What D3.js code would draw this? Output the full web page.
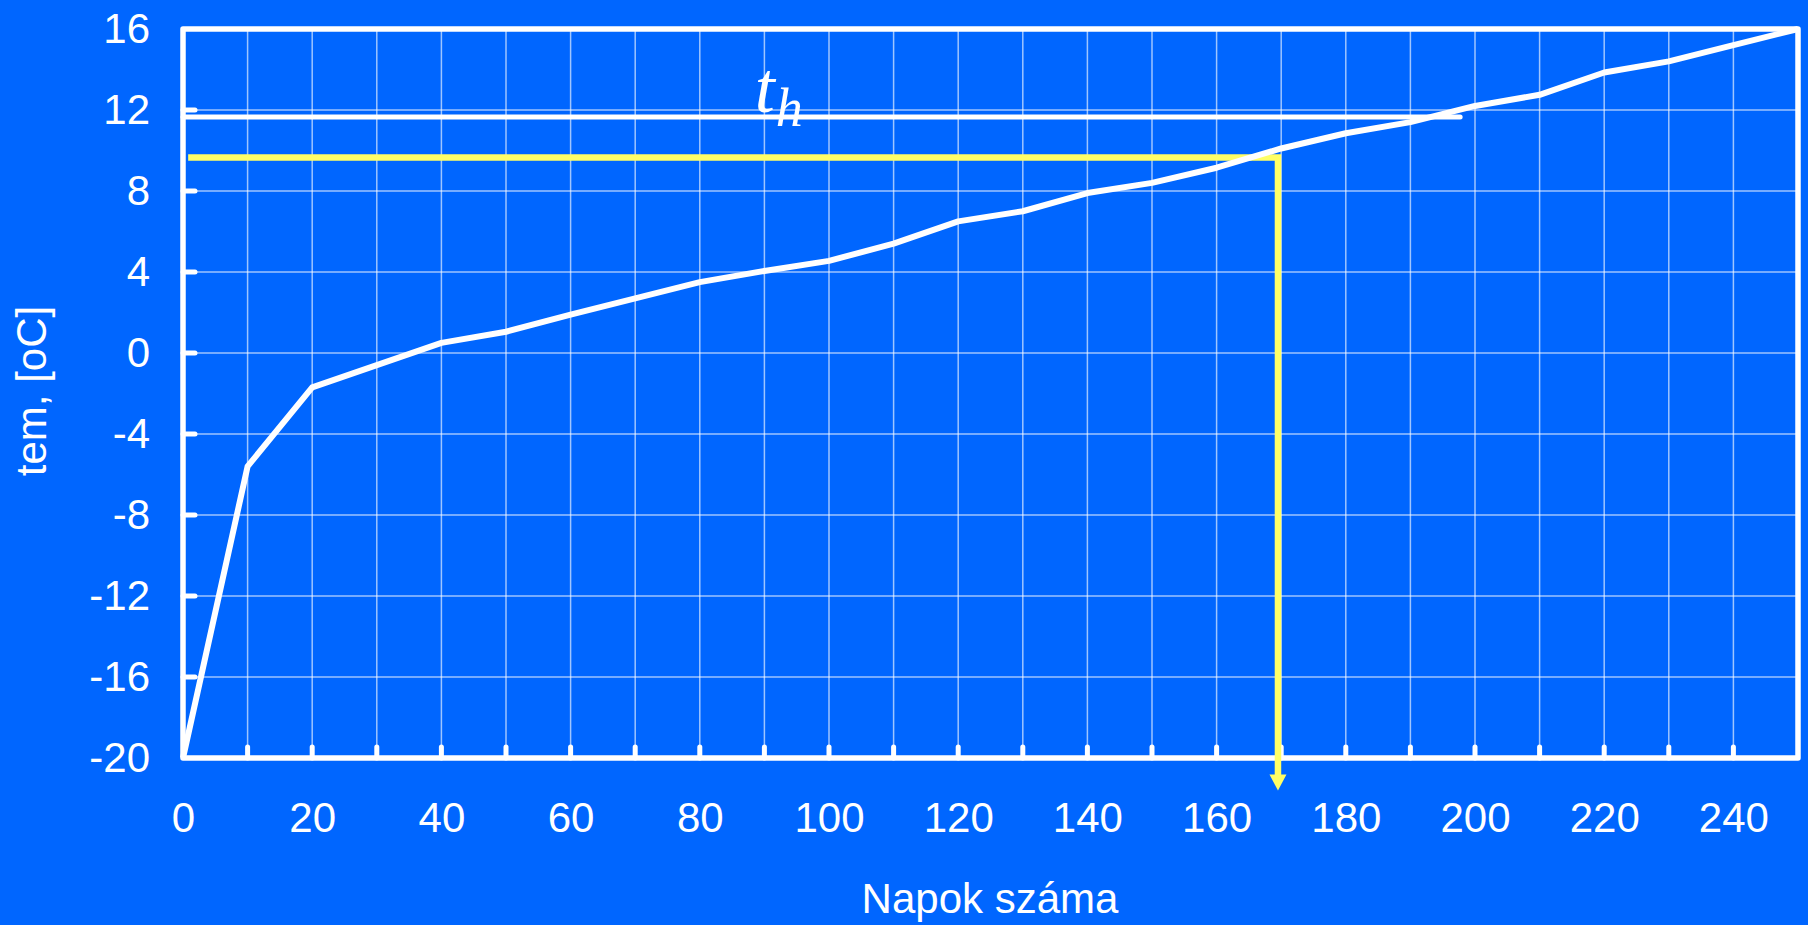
<!DOCTYPE html>
<html><head><meta charset="utf-8">
<script src="https://cdn.jsdelivr.net/npm/d3@7"></script>
<style>
html,body{margin:0;padding:0;background:#0066FF;}
svg{display:block;}
</style></head><body>
<svg id="c" width="1808" height="925"></svg>
<script>
// ---- data ----
const days  = [0, 10, 20, 30, 40, 50, 60, 70, 80, 90, 100, 110, 120, 130, 140, 150, 160, 170, 180, 190, 200, 210, 220, 230, 240, 250];
const temps = [-20, -5.6, -1.7, -0.6, 0.5, 1.05, 1.9, 2.7, 3.5, 4.05, 4.55, 5.4, 6.5, 7.0, 7.9, 8.4, 9.15, 10.1, 10.85, 11.4, 12.2, 12.75, 13.85, 14.4, 15.2, 16];
const xTickLabels = [0, 20, 40, 60, 80, 100, 120, 140, 160, 180, 200, 220, 240];
const yTickLabels = [-20, -16, -12, -8, -4, 0, 4, 8, 12, 16];
const xGridDays = [10, 20, 30, 40, 50, 60, 70, 80, 90, 100, 110, 120, 130, 140, 150, 160, 170, 180, 190, 200, 210, 220, 230, 240];
const yGridTemps = [-16, -12, -8, -4, 0, 4, 8, 12];
const thValue = 11.65, thStartDay = 0, thEndDay = 197.7;     // t_h line
const readValue = 9.66, readStartDay = 0.8, readDay = 169.5;  // yellow reading line
const arrowEndValue = -21.6;
const thLabelDay = 88.5;
const xTitle = "Napok száma";
const yTitle = "tem, [oC]";

// ---- layout ----
const svg = d3.select("#c");
const x = d3.scaleLinear().domain([0, 250]).range([183, 1798]);
const y = d3.scaleLinear().domain([-20, 16]).range([758, 29]);
const WHITE = "#ffffff", YELLOW = "#ffff66", GRID = "rgba(255,255,255,0.62)";
const FONT = "'Liberation Sans', Arial, sans-serif";

svg.append("rect").attr("width", 1808).attr("height", 925).attr("fill", "#0066FF");

// grid
svg.append("g").selectAll("line").data(xGridDays).join("line")
  .attr("x1", d => x(d)).attr("x2", d => x(d))
  .attr("y1", y(16)).attr("y2", y(-20))
  .attr("stroke", GRID).attr("stroke-width", 1.5);
svg.append("g").selectAll("line").data(yGridTemps).join("line")
  .attr("x1", x(0)).attr("x2", x(250))
  .attr("y1", d => y(d)).attr("y2", d => y(d))
  .attr("stroke", GRID).attr("stroke-width", 1.5);

// tick stubs (inside)
svg.append("g").selectAll("line").data(yGridTemps).join("line")
  .attr("x1", x(0)).attr("x2", x(0) + 12)
  .attr("y1", d => y(d)).attr("y2", d => y(d))
  .attr("stroke", WHITE).attr("stroke-width", 5).attr("stroke-linecap", "round");
svg.append("g").selectAll("line").data(xGridDays).join("line")
  .attr("x1", d => x(d)).attr("x2", d => x(d))
  .attr("y1", y(-20)).attr("y2", y(-20) - 11)
  .attr("stroke", WHITE).attr("stroke-width", 5).attr("stroke-linecap", "round");

// frame
svg.append("rect")
  .attr("x", x(0)).attr("y", y(16))
  .attr("width", x(250) - x(0)).attr("height", y(-20) - y(16))
  .attr("fill", "none").attr("stroke", WHITE).attr("stroke-width", 5.5).attr("stroke-linejoin", "round");

// axes labels
const yAxis = svg.append("g").attr("transform", `translate(${x(0)},0)`)
  .call(d3.axisLeft(y).tickValues(yTickLabels).tickSize(0).tickPadding(33).tickFormat(d => String(d)));
yAxis.select(".domain").remove();
yAxis.selectAll("text").attr("fill", WHITE).attr("font-family", FONT).attr("font-size", 42);

const xAxis = svg.append("g").attr("transform", `translate(0,${y(-20)})`)
  .call(d3.axisBottom(x).tickValues(xTickLabels).tickSize(0).tickPadding(44).tickFormat(d => String(d)));
xAxis.select(".domain").remove();
xAxis.selectAll("text").attr("fill", WHITE).attr("font-family", FONT).attr("font-size", 42);

// titles
svg.append("text").attr("x", 990).attr("y", 913).attr("text-anchor", "middle")
  .attr("fill", WHITE).attr("font-family", FONT).attr("font-size", 42).text(xTitle);
svg.append("text").attr("transform", "translate(46,391) rotate(-90)").attr("text-anchor", "middle")
  .attr("fill", WHITE).attr("font-family", FONT).attr("font-size", 42).text(yTitle);

// t_h line
svg.append("line")
  .attr("x1", x(thStartDay)).attr("x2", x(thEndDay))
  .attr("y1", y(thValue)).attr("y2", y(thValue))
  .attr("stroke", WHITE).attr("stroke-width", 5).attr("stroke-linecap", "round");
const th = svg.append("text").attr("x", x(thLabelDay)).attr("y", y(thValue) - 5)
  .attr("fill", WHITE).attr("font-family", "'Liberation Serif', 'Times New Roman', serif")
  .attr("font-style", "italic").attr("font-size", 72);
th.append("tspan").text("t");
th.append("tspan").attr("font-size", 54).attr("dy", 14).attr("dx", 1).text("h");

// yellow reading line + arrow
const tipX = x(readDay), tipY = y(arrowEndValue);
svg.append("path")
  .attr("d", `M${x(readStartDay)},${y(readValue)}H${tipX}V${tipY - 14}`)
  .attr("fill", "none").attr("stroke", YELLOW).attr("stroke-width", 6.5).attr("stroke-linejoin", "miter");
svg.append("path")
  .attr("d", `M${tipX},${tipY}L${tipX - 8.5},${tipY - 16}L${tipX + 8.5},${tipY - 16}Z`)
  .attr("fill", YELLOW);

// curve
const line = d3.line().x((d, i) => x(days[i])).y(d => y(d));
svg.append("path").datum(temps).attr("d", line)
  .attr("fill", "none").attr("stroke", WHITE).attr("stroke-width", 6).attr("stroke-linejoin", "round");
</script>
</body></html>
